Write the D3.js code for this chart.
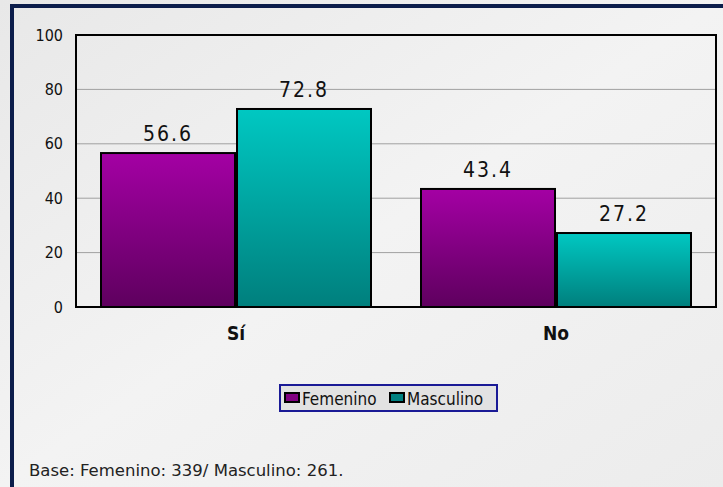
<!DOCTYPE html>
<html>
<head>
<meta charset="utf-8">
<script src="https://cdn.jsdelivr.net/npm/d3@7"></script>
<style>
  body { margin: 0; background: #f0f0f0; }
  svg { display: block; font-family: "DejaVu Sans Condensed", "DejaVu Sans", sans-serif; }
</style>
</head>
<body>
<div id="chart"></div>
<script>
// data
const categories = ["Sí", "No"];
const seriesNames = ["Femenino", "Masculino"];
const femenino = [56.6, 43.4];
const masculino = [72.8, 27.2];
const yTicks = [0, 20, 40, 60, 80, 100];
const note = "Base: Femenino: 339/ Masculino: 261.";

const width = 723, height = 487;
const margin = { top: 35, right: 7, bottom: 180, left: 76 };
const font = "DejaVu Sans Condensed";

const svg = d3.select("#chart").append("svg")
  .attr("width", width)
  .attr("height", height);

const defs = svg.append("defs");
function vgrad(id, top, bottom) {
  const g = defs.append("linearGradient").attr("id", id)
    .attr("x1", 0).attr("y1", 0).attr("x2", 0).attr("y2", 1);
  g.append("stop").attr("offset", "0%").attr("stop-color", top);
  g.append("stop").attr("offset", "100%").attr("stop-color", bottom);
}
vgrad("gFem", "#a400a4", "#5e005e");
vgrad("gMas", "#00c8c2", "#007f7d");
const bg = defs.append("linearGradient").attr("id", "gBg")
  .attr("x1", 0).attr("y1", 0).attr("x2", 1).attr("y2", 1);
bg.append("stop").attr("offset", "0%").attr("stop-color", "#e8e8e8");
bg.append("stop").attr("offset", "50%").attr("stop-color", "#f3f3f3");
bg.append("stop").attr("offset", "100%").attr("stop-color", "#ececec");

// page background + navy frame
svg.append("rect").attr("width", width).attr("height", height).attr("fill", "url(#gBg)");
svg.append("path")
  .attr("d", `M12,${height} V6 H${width}`)
  .attr("fill", "none")
  .attr("stroke", "#0c1d4b")
  .attr("stroke-width", 4);

const x0 = d3.scaleBand()
  .domain(categories)
  .range([margin.left, width - margin.right])
  .paddingInner(0.15)
  .paddingOuter(0.075);

const x1 = d3.scaleBand()
  .domain(seriesNames)
  .range([0, x0.bandwidth()]);

const y = d3.scaleLinear()
  .domain([0, 100])
  .range([height - margin.bottom, margin.top]);

// gridlines
svg.append("g")
  .selectAll("line")
  .data(yTicks.filter(d => d > 0 && d < 100))
  .join("line")
  .attr("x1", margin.left).attr("x2", width - margin.right)
  .attr("y1", d => y(d)).attr("y2", d => y(d))
  .attr("stroke", "#a0a0a0")
  .attr("stroke-width", 1);

// y axis labels
const yAxis = d3.axisLeft(y).tickValues(yTicks).tickSize(0).tickPadding(13);
svg.append("g")
  .attr("transform", `translate(${margin.left},0)`)
  .call(yAxis)
  .call(g => g.select(".domain").remove())
  .selectAll("text")
  .attr("font-size", 16)
  .attr("font-family", font)
  .attr("fill", "#111");

// bars
const rows = categories.map((c, i) => ({ cat: c, vals: [
  { s: "Femenino", v: femenino[i] },
  { s: "Masculino", v: masculino[i] }
] }));

const grp = svg.append("g").selectAll("g")
  .data(rows)
  .join("g")
  .attr("transform", d => `translate(${x0(d.cat)},0)`);

grp.selectAll("rect")
  .data(d => d.vals)
  .join("rect")
  .attr("x", d => x1(d.s) + 1)
  .attr("width", x1.bandwidth() - 2)
  .attr("y", d => y(d.v))
  .attr("height", d => y(0) - y(d.v))
  .attr("fill", d => d.s === "Femenino" ? "url(#gFem)" : "url(#gMas)")
  .attr("stroke", "#000")
  .attr("stroke-width", 2);

grp.selectAll("text.val")
  .data(d => d.vals)
  .join("text")
  .attr("class", "val")
  .attr("x", d => x1(d.s) + x1.bandwidth() / 2)
  .attr("y", d => y(d.v) - 12)
  .attr("text-anchor", "middle")
  .attr("font-size", 21)
  .attr("letter-spacing", 2)
  .attr("fill", "#111")
  .text(d => d.v.toFixed(1));

// plot frame
svg.append("rect")
  .attr("x", margin.left)
  .attr("y", margin.top)
  .attr("width", width - margin.right - margin.left)
  .attr("height", y(0) - margin.top)
  .attr("fill", "none")
  .attr("stroke", "#000")
  .attr("stroke-width", 2);

// category labels
svg.append("g").selectAll("text")
  .data(categories)
  .join("text")
  .attr("x", d => x0(d) + x0.bandwidth() / 2)
  .attr("y", y(0) + 33)
  .attr("text-anchor", "middle")
  .attr("font-size", 19)
  .attr("font-weight", "bold")
  .attr("fill", "#111")
  .text(d => d);

// legend
const legend = svg.append("g").attr("transform", "translate(280,385)");
legend.append("rect")
  .attr("width", 217).attr("height", 26)
  .attr("fill", "#e2e2e2")
  .attr("stroke", "#1a1a96")
  .attr("stroke-width", 2);
const legendX = [4, 109];
const legendFill = ["#800080", "#008080"];
seriesNames.forEach((s, i) => {
  legend.append("rect")
    .attr("x", legendX[i] + 1).attr("y", 8)
    .attr("width", 14).attr("height", 9)
    .attr("fill", legendFill[i])
    .attr("stroke", "#000")
    .attr("stroke-width", 2);
  legend.append("text")
    .attr("x", legendX[i] + 18).attr("y", 20)
    .attr("font-size", 17)
    .attr("fill", "#111")
    .text(s);
});

// footnote
svg.append("text")
  .attr("x", 29).attr("y", 476)
  .attr("font-size", 16.5)
  .attr("font-family", "DejaVu Sans")
  .attr("fill", "#222")
  .text(note);
</script>
</body>
</html>
